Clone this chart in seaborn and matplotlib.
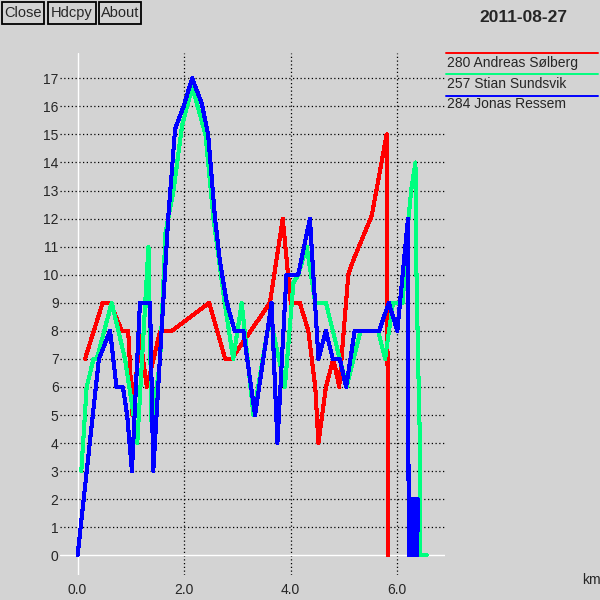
import pandas as pd
import matplotlib
matplotlib.use("Agg")
import matplotlib.pyplot as plt
import seaborn as sns
from matplotlib.lines import Line2D
from matplotlib.patches import Rectangle

# runners and their colours
runners = ["280 Andreas Sølberg", "257 Stian Sundsvik", "284 Jonas Ressem"]
colors = ["#ff0000", "#00ff7f", "#0000ff"]
date_text = "2011-08-27"
buttons = ["Close", "Hdcpy", "About"]

# values (km, value)
red_km = [0.14, 0.47, 0.61, 0.83, 0.95, 1.03, 1.17, 1.30, 1.55, 1.77, 2.47, 2.77, 2.89,
          3.61, 3.85, 4.00, 4.17, 4.33, 4.46, 4.52, 4.66, 4.80, 4.91, 5.08, 5.17, 5.52,
          5.80, 5.83]
red_val = [7, 9, 9, 8, 8, 5, 7.8, 6, 8, 8, 9, 7, 7,
           9, 12, 9, 9, 8, 6, 4, 6, 7, 6, 10, 10.5, 12.1,
           15, 0]

green_km = [0.07, 0.17, 0.30, 0.36, 0.64, 0.89, 1.05, 1.12, 1.33, 1.39, 1.55, 1.65, 1.80,
            1.96, 2.15, 2.40, 2.55, 2.76, 2.92, 3.08, 3.30, 3.61, 3.89, 4.05, 4.14, 4.30,
            4.46, 4.66, 5.05, 5.31, 5.64, 5.77, 5.92, 6.10, 6.21, 6.26, 6.34, 6.36, 6.39,
            6.42, 6.43, 6.55]
green_val = [3, 6, 7, 7, 9, 7, 5, 4, 11, 4.5, 7, 11.5, 13,
             15.3, 16.7, 15, 12, 9, 7, 9, 5, 8.5, 6, 9.7, 10, 11,
             9, 9, 6, 8, 8, 7, 9, 9, 12, 13, 14, 10, 7,
             4.4, 0, 0]

blue_km = [0.00, 0.40, 0.61, 0.73, 0.85, 0.93, 1.02, 1.17, 1.36, 1.42, 1.70, 1.83, 1.99,
           2.15, 2.33, 2.45, 2.58, 2.67, 2.80, 2.95, 3.11, 3.33, 3.64, 3.75, 3.92, 4.14,
           4.36, 4.52, 4.66, 4.79, 4.92, 5.04, 5.20, 5.66, 5.84, 6.00, 6.20, 6.205, 6.215,
           6.23, 6.25, 6.27, 6.29, 6.31, 6.33, 6.35, 6.37, 6.39]
blue_val = [0, 7, 8, 6, 6, 5, 3, 9, 9, 3, 12, 15.2, 16,
            17, 16.1, 15, 12, 10.5, 9, 8, 8, 5, 9, 4, 10, 10,
            12, 7, 8, 7, 7, 6, 8, 8, 9, 8, 12, 6, 0,
            2, 0, 2, 0, 2, 0, 2, 0, 2]

x_ticks = [0, 2, 4, 6]
y_ticks = list(range(0, 18))

df = pd.concat([
    pd.DataFrame({"km": red_km, "val": red_val, "runner": runners[0]}),
    pd.DataFrame({"km": green_km, "val": green_val, "runner": runners[1]}),
    pd.DataFrame({"km": blue_km, "val": blue_val, "runner": runners[2]}),
], ignore_index=True)

BG = "#d3d3d3"
sns.set_theme(style="white")
plt.rcParams["font.family"] = ["Liberation Sans", "DejaVu Sans"]

fig = plt.figure(figsize=(6, 6), dpi=100, facecolor=BG)
ax = fig.add_axes([60 / 600, 25 / 600, 385 / 600, 522 / 600])
ax.set_facecolor(BG)
for s in ax.spines.values():
    s.set_visible(False)

ax.set_xlim(-0.33, 6.895)
ax.set_ylim(-0.70, 17.9)

# dotted grid
dots = (0, (1, 2))
for y in y_ticks[1:]:
    ax.axhline(y, color="black", lw=0.9, linestyle=dots, zorder=1)
for x in x_ticks[1:]:
    ax.axvline(x, color="black", lw=0.9, linestyle=dots, zorder=1)
ax.axhline(0, color="white", lw=1.0, zorder=1)
ax.axvline(0, color="white", lw=1.0, zorder=1)

sns.lineplot(data=df, x="km", y="val", hue="runner", hue_order=runners,
             palette=colors, sort=False, estimator=None, legend=False,
             linewidth=2.2, antialiased=False, ax=ax, zorder=3)

ax.set_xlabel("")
ax.set_ylabel("")
ax.set_xticks(x_ticks)
ax.set_xticklabels([f"{v:.1f}" for v in x_ticks], fontsize=10)
ax.set_yticks(y_ticks)
ax.set_yticklabels([str(v) for v in y_ticks], fontsize=10)
ax.tick_params(axis="y", length=0, pad=1)
ax.tick_params(axis="x", length=0, pad=6)

fig.text(591 / 600, 1 - 580 / 600, "km", ha="center", va="center", fontsize=10)
fig.text(523 / 600, 1 - 17 / 600, date_text, ha="center", va="center",
         fontsize=12.5, fontweight="bold")

# legend on the right: coloured line above each name
leg_line_y = [53, 74, 95.5]
leg_text_y = [66.5, 87.5, 108]
for name, c, ly, ty in zip(runners, colors, leg_line_y, leg_text_y):
    fig.add_artist(Line2D([446 / 600, 598 / 600], [1 - ly / 600, 1 - ly / 600],
                          color=c, lw=1.4, transform=fig.transFigure))
    fig.text(447 / 600, 1 - ty / 600, name, ha="left", va="baseline", fontsize=10)

# buttons top left
btn_boxes = [(2, 44), (48, 96), (99, 141)]
for label, (x0, x1) in zip(buttons, btn_boxes):
    fig.add_artist(Rectangle((x0 / 600, 1 - 24 / 600), (x1 - x0) / 600, 22 / 600,
                             fill=False, ec="black", lw=1.3, transform=fig.transFigure))
    fig.text((x0 + x1) / 2 / 600, 1 - 13 / 600, label, ha="center", va="center", fontsize=10.5)

fig.savefig("out.png", dpi=100, facecolor=BG)
